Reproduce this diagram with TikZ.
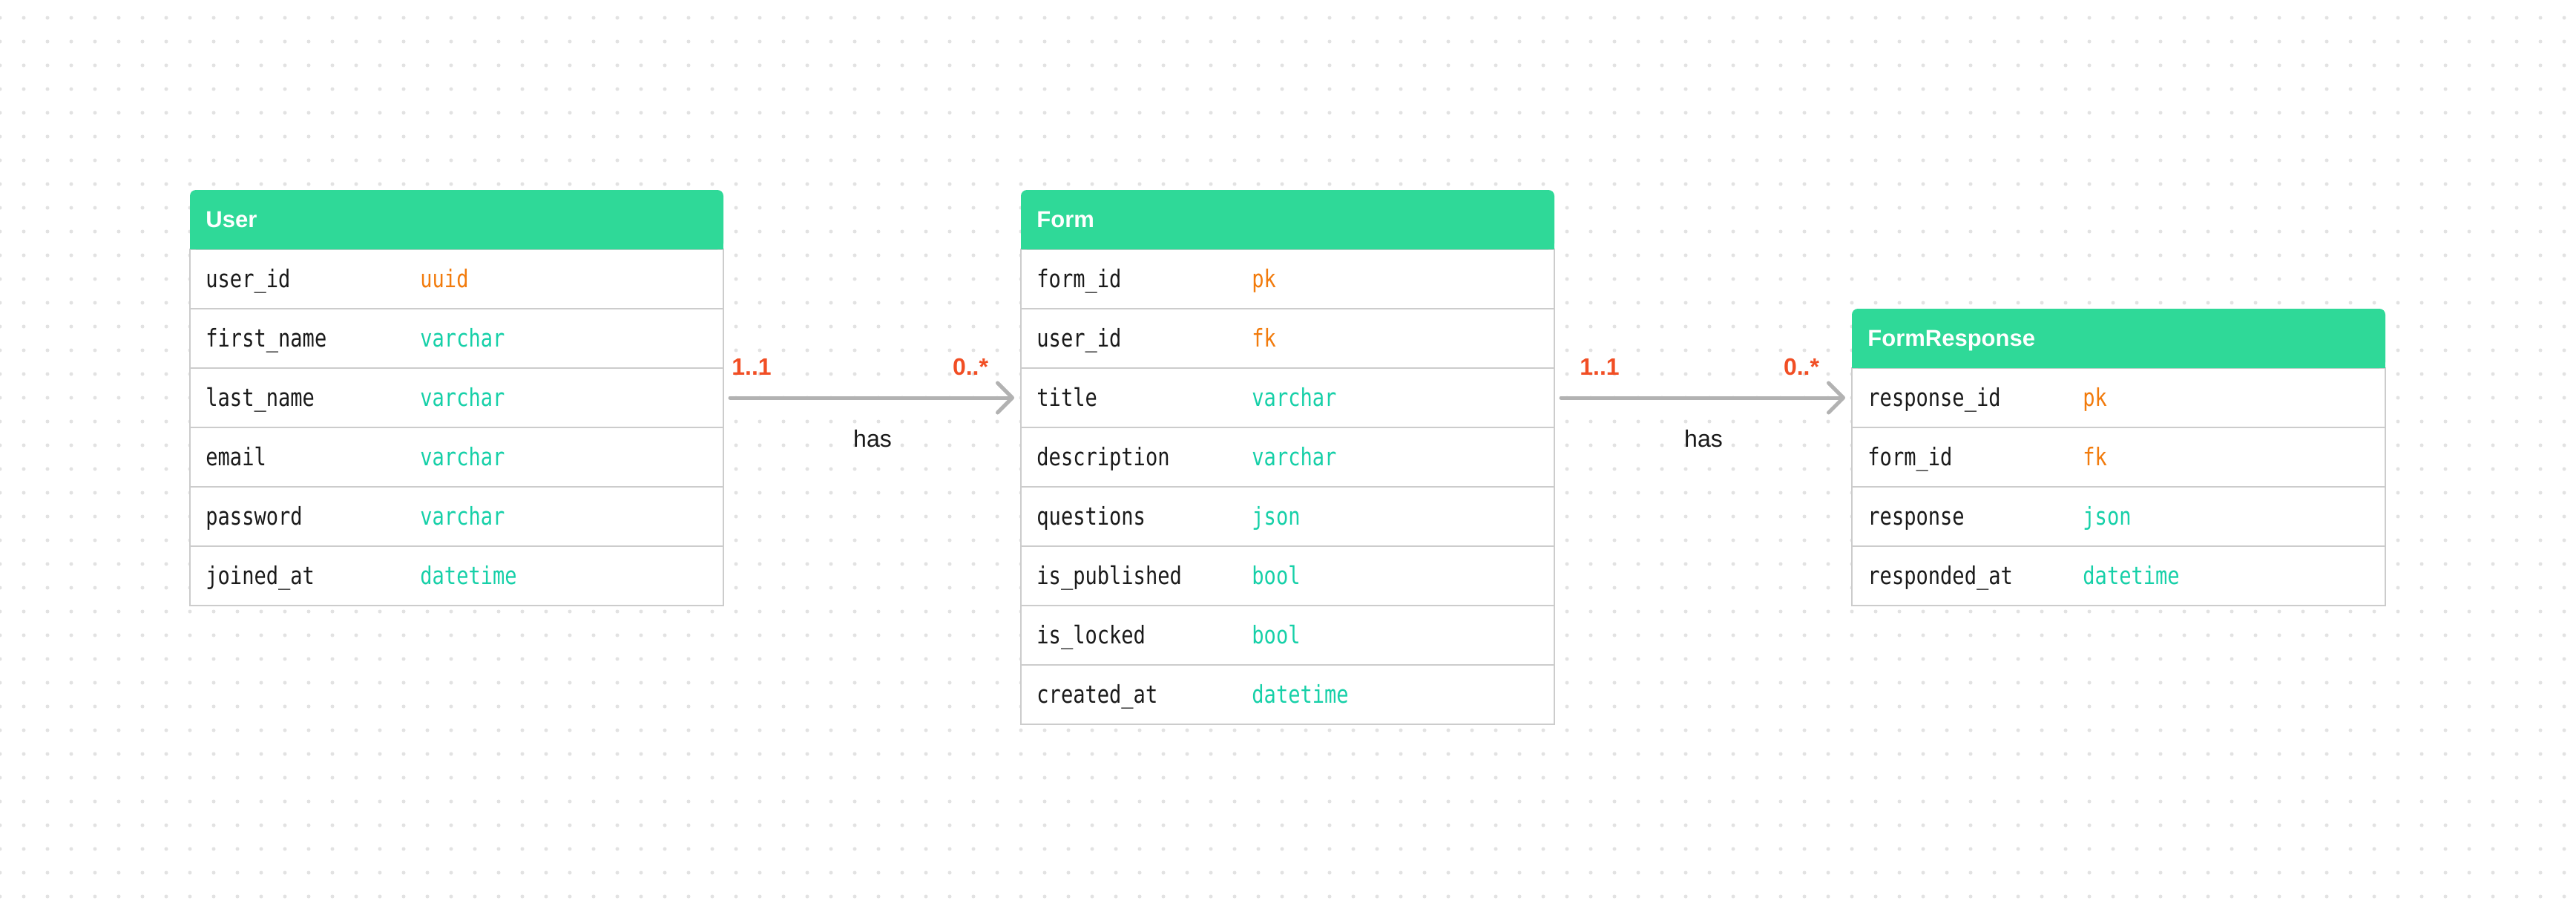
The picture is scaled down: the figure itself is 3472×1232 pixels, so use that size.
\documentclass[tikz,border=0pt]{standalone}
\usepackage{fontspec}
\setmainfont{Liberation Sans}
\newfontfamily\monof[FakeStretch=0.82]{DejaVu Sans Mono}
\usetikzlibrary{arrows.meta}
\definecolor{hdr}{RGB}{47,217,152}
\definecolor{typet}{RGB}{22,208,168}
\definecolor{typeo}{RGB}{242,123,12}
\definecolor{lblred}{RGB}{241,78,36}
\definecolor{ink}{RGB}{26,26,26}
\definecolor{brd}{RGB}{204,204,204}
\definecolor{arr}{RGB}{178,178,178}
\definecolor{dotc}{RGB}{226,226,226}
\tikzset{
  hdrbox/.style={fill=hdr, rounded corners=4pt, minimum width=359.5pt, minimum height=40pt, inner sep=0pt, outer sep=0pt, anchor=north west},
  rowbox/.style={draw=brd, line width=1pt, fill=white, minimum width=359.5pt, minimum height=40pt, inner sep=0pt, outer sep=0pt, anchor=north west},
  hdrtxt/.style={anchor=base west, inner sep=0pt, text=white, font=\fontsize{15.5pt}{18pt}\selectfont\bfseries},
  fld/.style={anchor=base west, inner sep=0pt, text=ink, font=\monof\fontsize{16.5pt}{19pt}\selectfont},
  card/.style={anchor=base, inner sep=0pt, text=lblred, font=\fontsize{16pt}{19pt}\selectfont\bfseries},
  rel/.style={anchor=base, inner sep=0pt, text=ink, font=\fontsize{16pt}{19pt}\selectfont},
  conn/.style={draw=arr, line width=2.5pt, line cap=round, -{Straight Barb[length=10pt,width=20pt,round]}},
}
\begin{document}
\begin{tikzpicture}[x=0.5pt,y=-0.5pt]
\useasboundingbox (0,0) rectangle (3472,1232);
\fill[white] (0,0) rectangle (3472,1232);
% dot grid
\foreach \i in {0,...,108} {
  \fill[dotc] foreach \j in {0,...,37} {(\i*32,24+\j*32) circle[radius=1.25pt]};
}

% ---------- User ----------
\foreach [count=\k] \f/\t/\c in {user\_id/uuid/typeo, first\_name/varchar/typet, last\_name/varchar/typet, email/varchar/typet, password/varchar/typet, joined\_at/datetime/typet}{
  \node[rowbox] (user-r\k) at (256,{336+(\k-1)*80}) {};
  \node[fld] (user-f\k) at ([xshift=10.5pt,yshift=-5.5pt]user-r\k.west) {\f};
  \node[fld,text=\c] (user-y\k) at ([xshift=155pt,yshift=-5.5pt]user-r\k.west) {\t};
}
\node[hdrbox] (user) at (256,256) {};
\fill[hdr] (user.west) rectangle (user.south east);
\node[hdrtxt] (user-t) at ([xshift=10.5pt,yshift=-5pt]user.west) {User};

% ---------- Form ----------
\foreach [count=\k] \f/\t/\c in {form\_id/pk/typeo, user\_id/fk/typeo, title/varchar/typet, description/varchar/typet, questions/json/typet, is\_published/bool/typet, is\_locked/bool/typet, created\_at/datetime/typet}{
  \node[rowbox] (form-r\k) at (1376,{336+(\k-1)*80}) {};
  \node[fld] (form-f\k) at ([xshift=10.5pt,yshift=-5.5pt]form-r\k.west) {\f};
  \node[fld,text=\c] (form-y\k) at ([xshift=155.5pt,yshift=-5.5pt]form-r\k.west) {\t};
}
\node[hdrbox] (form) at (1376,256) {};
\fill[hdr] (form.west) rectangle (form.south east);
\node[hdrtxt] (form-t) at ([xshift=10.5pt,yshift=-5pt]form.west) {Form};

% ---------- FormResponse ----------
\foreach [count=\k] \f/\t/\c in {response\_id/pk/typeo, form\_id/fk/typeo, response/json/typet, responded\_at/datetime/typet}{
  \node[rowbox] (resp-r\k) at (2496,{496+(\k-1)*80}) {};
  \node[fld] (resp-f\k) at ([xshift=10.5pt,yshift=-5.5pt]resp-r\k.west) {\f};
  \node[fld,text=\c] (resp-y\k) at ([xshift=155.5pt,yshift=-5.5pt]resp-r\k.west) {\t};
}
\node[hdrbox] (resp) at (2496,416) {};
\fill[hdr] (resp.west) rectangle (resp.south east);
\node[hdrtxt] (resp-t) at ([xshift=10.5pt,yshift=-5pt]resp.west) {FormResponse};

% ---------- connectors ----------
\draw[conn] ([xshift=4.5pt]user-r3.east) -- ([xshift=-4.5pt]form-r3.west);
\draw[conn] ([xshift=4.5pt]form-r3.east) -- ([xshift=-4.5pt]resp-r1.west);

\node[card] (c1a) at (1013,505) {1..1};
\node[card] (c1b) at (1308,505) {0..*};
\node[rel]  (h1)  at (1176,602) {has};
\node[card] (c2a) at (2156,505) {1..1};
\node[card] (c2b) at (2428,505) {0..*};
\node[rel]  (h2)  at (2296,602) {has};
\end{tikzpicture}
\end{document}
